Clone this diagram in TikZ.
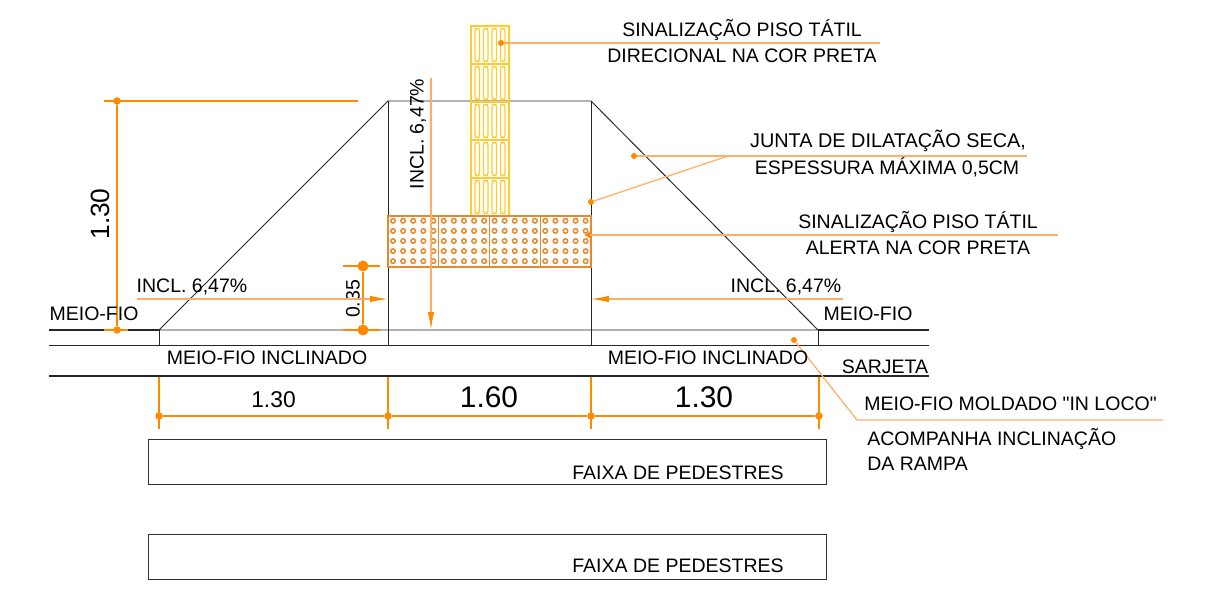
\documentclass[tikz,border=0pt]{standalone}
\usepackage{fontspec}
\setmainfont{Liberation Sans}
\newfontfamily\rawfont{Liberation Sans}[Ligatures=Common]
\usetikzlibrary{arrows.meta}
\definecolor{dimorange}{HTML}{FF8A00}
\definecolor{leaderorange}{HTML}{FFAE66}
\definecolor{alertorange}{HTML}{E58A2A}
\definecolor{guideyellow}{HTML}{FFCB2E}
\tikzset{
	label/.style={inner sep=0pt, font=\fontsize{11.1}{13}\selectfont, text=black},
	dimbig/.style={inner sep=0pt, font=\fontsize{17}{19}\selectfont, text=black},
	outline/.style={draw=black!85, line width=0.55pt},
	kerb/.style={draw=black!85, line width=1pt},
	dim/.style={draw=dimorange, line width=1pt},
	leader/.style={draw=leaderorange, line width=0.7pt},
	dot/.style={circle, fill=dimorange, inner sep=0pt, minimum size=0.15cm},
	smalldot/.style={circle, fill=dimorange, inner sep=0pt, minimum size=0.12cm},
	bigdot/.style={circle, fill=dimorange, inner sep=0pt, minimum size=0.22cm},
	slope/.style={draw=leaderorange, line width=0.7pt, -{Latex[length=0.36cm, width=0.13cm, color=dimorange]}},
}

\begin{document}
\begin{tikzpicture}[x=0.02cm, y=-0.02cm]
	\useasboundingbox (0,0) rectangle (1209,607);

	% ramp outline
	\coordinate (footl) at (159,330);
	\coordinate (footr) at (818,330);
	\coordinate (topl) at (388,101);
	\coordinate (topr) at (591,101);
	\coordinate (basel) at (159,345.5);
	\coordinate (baser) at (818,345.5);
	\coordinate (kerbl) at (49,330);
	\coordinate (kerbr) at (929,330);
	\coordinate (lowl) at (49,345.5);
	\coordinate (lowr) at (929,345.5);
	\coordinate (gutl) at (49,376);
	\coordinate (gutr) at (929,376);
	\draw [outline] (footl) -- (topl) -- (topr) -- (footr) -- (footl);
	\draw [outline] (basel) -- (baser);
	\draw [outline] (footl) -- (basel);
	\draw [outline] (footr) -- (baser);
	\draw [outline] (topl) -- (388,345.5);
	\draw [outline] (topr) -- (591,345.5);
	\draw [kerb] (kerbl) -- (footl);
	\draw [kerb] (lowl) -- (basel);
	\draw [kerb] (footr) -- (kerbr);
	\draw [kerb] (baser) -- (lowr);
	\draw [kerb] (gutl) -- (gutr);

	% directional blocks
	\begin{scope}[draw=guideyellow, line width=0.7pt]
		\foreach \row in {0,...,4} {
			\draw (471,26+38*\row) rectangle +(38,38);
			\foreach \col in {477.3,485.7,494.3,502.7}
				\draw [rounded corners=1.3pt] (\col-2.2,28.5+38*\row) rectangle (\col+2.2,61.5+38*\row);
		}
	\end{scope}

	% alert blocks
	\begin{scope}[draw=alertorange, line width=0.7pt]
		\foreach \blk in {0,...,3} {
			\draw (388+50.75*\blk,216) rectangle +(50.75,51);
			\foreach \col in {0,...,4}
				\foreach \row in {0,...,4}
					\draw [line width=0.85pt] (393+50.75*\blk+10.1*\col,220.8+10.1*\row) circle (0.045cm);
		}
	\end{scope}

	% dimensions
	\coordinate (dimh) at (104,101);
	\coordinate (dimhe) at (358,101);
	\coordinate (dimf) at (104,330);
	\coordinate (dimfe) at (128,330);
	\node (d1) [dot] at (117,101) {};
	\node (d2) [dot] at (117,330) {};
	\draw [dim] (dimh) -- (dimhe);
	\draw [dim] (dimf) -- (dimfe);
	\draw [dim] (d1) -- (d2);
	\node (dimleft) [dimbig, rotate=90, font=\fontsize{15}{17}\selectfont] at (100,214) {1.30};

	\node (h1) [bigdot] at (363,266) {};
	\node (h2) [bigdot] at (363,330) {};
	\coordinate (h1l) at (343,266);
	\coordinate (h1r) at (380,266);
	\coordinate (h2l) at (343,330);
	\coordinate (h2r) at (380,330);
	\draw [dim] (h1l) -- (h1r);
	\draw [dim] (h2l) -- (h2r);
	\draw [dim] (h1) -- (h2);
	\node (dimh35) [label, rotate=90] at (353,299) {0.35};

	\node (b1) [dot] at (159,416) {};
	\node (b2) [dot] at (388,416) {};
	\node (b3) [dot] at (591,416) {};
	\node (b4) [dot] at (819,416) {};
	\draw [dim] (b1) -- (b2);
	\draw [dim] (b2) -- (b3);
	\draw [dim] (b3) -- (b4);
	\foreach \x in {159,388,591,819}
		\draw [dim] (\x,377) -- (\x,429);
	\node (dima) [label, font=\fontsize{13}{15}\selectfont] at (273.5,400) {1.30};
	\node (dimb) [dimbig] at (489,397) {1.60};
	\node (dimc) [dimbig] at (704,397) {1.30};

	% slopes
	\coordinate (sl1) at (137,299);
	\coordinate (sl2) at (388,299);
	\coordinate (sr1) at (843,299);
	\coordinate (sr2) at (591,299);
	\coordinate (sv1) at (431,78);
	\coordinate (sv2) at (431,330);
	\draw [slope] (sl1) -- (sl2);
	\draw [slope] (sr1) -- (sr2);
	\draw [slope] (sv1) -- (sv2);
	\node (incla) [label] at (192,287) {INCL. 6,47\%};
	\node (inclb) [label] at (786,287) {INCL. 6,47\%};
	\node (inclc) [label, rotate=90] at (418,134) {INCL. 6,47\%};

	% leaders
	\node (p1) [smalldot] at (501,43) {};
	\coordinate (p1e) at (880,43);
	\draw [leader] (p1) -- (p1e);
	\node (lab1) [label] at (742,30) {SINALIZAÇÃO PISO TÁTIL};
	\node (lab2) [label] at (742,56) {DIRECIONAL NA COR PRETA};

	\node (p2) [smalldot] at (634,156) {};
	\node (p3) [smalldot] at (591,202) {};
	\coordinate (p2e) at (1027,156);
	\coordinate (p3e) at (728,156);
	\draw [leader] (p2) -- (p2e);
	\draw [leader] (p3) -- (p3e);
	\node (lab3) [label, font=\fontsize{11.3}{13}\selectfont] at (888,141) {JUNTA DE DILATAÇÃO SECA,};
	\node (lab4) [label] at (887,167) {ESPESSURA MÁXIMA 0,5CM};

	\coordinate (p4) at (584,235);
	\coordinate (p4e) at (1058,235);
	\draw [leader, {Latex[length=0.12cm, width=0.14cm, color=dimorange]}-] (p4) -- (p4e);
	\node (lab5) [label] at (918,222) {SINALIZAÇÃO PISO TÁTIL};
	\node (lab6) [label] at (918,248) {ALERTA NA COR PRETA};

	\node (p5) [smalldot] at (794,340) {};
	\coordinate (p5m) at (857,420);
	\coordinate (p5e) at (1163,420);
	\draw [leader] (p5) -- (p5m) -- (p5e);
	\node (lab7) [label] at (1010.5,404) {MEIO-FIO MOLDADO {\rawfont "}IN LOCO{\rawfont "}};
	\node (lab8) [label, anchor=west] at (867,439) {ACOMPANHA INCLINAÇÃO};
	\node (lab9) [label, anchor=west] at (867,464) {DA RAMPA};

	% kerb labels
	\node (mfa) [label] at (94,314) {MEIO-FIO};
	\node (mfb) [label] at (868,314) {MEIO-FIO};
	\node (mfc) [label] at (267,358) {MEIO-FIO INCLINADO};
	\node (mfd) [label] at (708,358) {MEIO-FIO INCLINADO};
	\node (sarjeta) [label] at (885,367) {SARJETA};

	% crossings
	\node (faixaa) [draw=black!80, line width=0.55pt, minimum width=13.56cm, minimum height=0.89cm, inner sep=0pt] at (487.5,462) {};
	\node (faixab) [draw=black!80, line width=0.55pt, minimum width=13.56cm, minimum height=0.89cm, inner sep=0pt] at (487.5,557) {};
	\node (faixatxta) [label] at (678,473) {FAIXA DE PEDESTRES};
	\node (faixatxtb) [label] at (678,566) {FAIXA DE PEDESTRES};
\end{tikzpicture}
\end{document}
